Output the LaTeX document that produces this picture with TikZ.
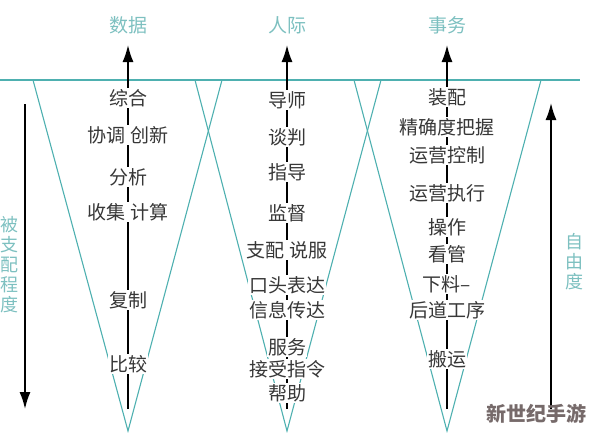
\documentclass[tikz,border=0pt]{standalone}
\usepackage{fontspec}
\newfontfamily\cjk{Noto Sans CJK SC}
\usetikzlibrary{arrows.meta}
\definecolor{lineteal}{RGB}{78,176,176}
\definecolor{titleteal}{RGB}{125,192,192}
\definecolor{txtgray}{RGB}{55,55,55}
\definecolor{markgray}{RGB}{118,106,106}
\begin{document}
\begin{tikzpicture}[x=1pt,y=-1pt,
    lbl/.style={fill=white,inner sep=1pt,text=txtgray,font=\cjk\fontsize{19}{22}\selectfont},
    ttl/.style={text=titleteal,font=\cjk\fontsize{19}{22}\selectfont},
    side/.style={text=titleteal,align=center,font=\cjk\fontsize{18}{20}\selectfont},
    funnel/.style={draw=lineteal,line width=1.1pt},
    axis/.style={draw=black,line width=1.6pt,-{Latex[length=17pt,width=11pt]}}]
  \useasboundingbox (0,0) rectangle (594,432);
  \draw
    (128,25) node[ttl] (data){数据}
    (287,25) node[ttl] (people){人际}
    (447,25) node[ttl] (things){事务}
    (10,265) node[side] (ruled){被\\支\\配\\程\\度}
    (574,262) node[side] (free){自\\由\\度};
  % funnel corners
  \coordinate (h0) at (0,80);
  \coordinate (h1) at (580,80);
  \coordinate (d0) at (33,80);
  \coordinate (d1) at (222,80);
  \coordinate (dv) at (128,431);
  \coordinate (p0) at (195,80);
  \coordinate (p1) at (381,80);
  \coordinate (pv) at (287,431);
  \coordinate (t0) at (354,80);
  \coordinate (t1) at (541,80);
  \coordinate (tv) at (447,431);
  % arrow ends
  \coordinate (ds) at (128,409);
  \coordinate (de) at (128,45);
  \coordinate (ps) at (287,409);
  \coordinate (pe) at (287,45);
  \coordinate (ts) at (447,409);
  \coordinate (te) at (447,45);
  \coordinate (ls) at (25,104);
  \coordinate (le) at (25,409);
  \coordinate (rs) at (551,409);
  \coordinate (re) at (551,103);
  \begin{scope}[funnel]
    \draw (h0) -- (h1);
    \draw (d0) -- (dv) -- (d1);
    \draw (p0) -- (pv) -- (p1);
    \draw (t0) -- (tv) -- (t1);
  \end{scope}
  \begin{scope}[axis]
    \draw (ds) -- (de);
    \draw (ps) -- (pe);
    \draw (ts) -- (te);
    \draw (ls) -- (le);
    \draw (rs) -- (re);
  \end{scope}
  \draw
    (128,98) node[lbl] (d-1){综合}
    (128,135) node[lbl] (d-2){协调 创新}
    (128,177) node[lbl] (d-3){分析}
    (128,212) node[lbl] (d-4){收集 计算}
    (128,300) node[lbl] (d-5){复制}
    (128,364) node[lbl] (d-6){比较};
  \draw
    (287,100) node[lbl] (p-1){导师}
    (287,137) node[lbl] (p-2){谈判}
    (287,172) node[lbl] (p-3){指导}
    (287,213) node[lbl] (p-4){监督}
    (287,250) node[lbl] (p-5){支配 说服}
    (287,285) node[lbl] (p-6){口头表达}
    (287,310) node[lbl] (p-7){信息传达}
    (287,347) node[lbl] (p-8){服务}
    (287,369) node[lbl] (p-9){接受指令}
    (287,393) node[lbl] (p-10){帮助};
  \draw
    (447,97) node[lbl] (t-1){装配}
    (447,127) node[lbl] (t-2){精确度把握}
    (447,155) node[lbl] (t-3){运营控制}
    (447,193) node[lbl] (t-4){运营执行}
    (447,227) node[lbl] (t-5){操作}
    (447,254) node[lbl] (t-6){看管}
    (447,284) node[lbl] (t-7){下料–}
    (447,310) node[lbl] (t-8){后道工序}
    (447,359) node[lbl] (t-9){搬运};
  \node[text=markgray,font=\cjk\bfseries\fontsize{20}{22}\selectfont] (mark) at (536,414) {新世纪手游};
\end{tikzpicture}
\end{document}
